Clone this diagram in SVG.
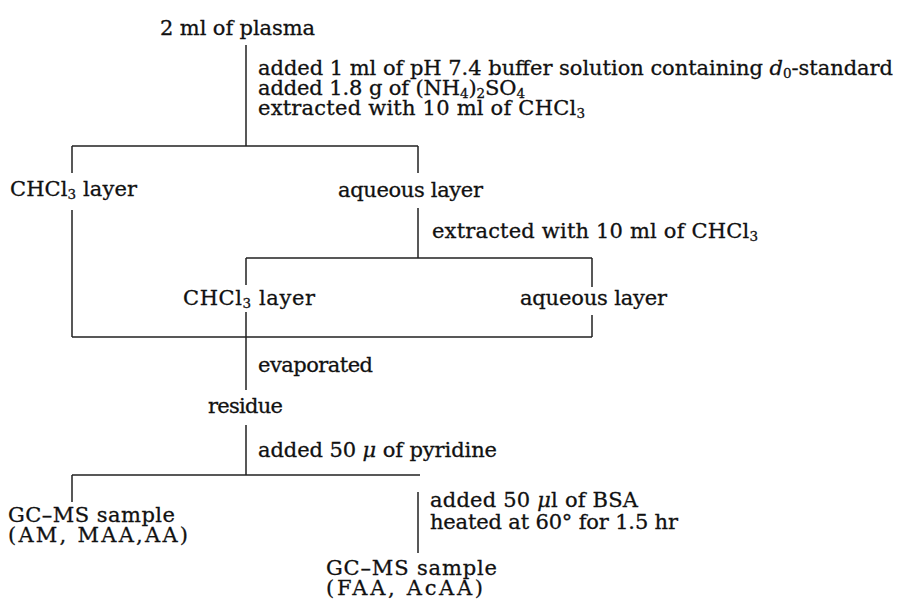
<svg xmlns="http://www.w3.org/2000/svg" width="897" height="607" viewBox="0 0 897 607">
<style>
text{font-family:"DejaVu Serif","Liberation Serif",serif;font-size:21px;fill:#111;stroke:#111;stroke-width:0.3}
.sub{font-size:13.5px}
.it{font-style:italic}
.ln{stroke:#222;stroke-width:1.5;fill:none}
</style>
<rect width="897" height="607" fill="#fff"/>
<g id="connectors" class="ln">
<path d="M246 45V146M72 146H418M72 146V173M418 146V173"/>
<path d="M72 210V337M418 208V258M246 258H592M246 258V285M246 312V390M592 258V287M592 315V337M72 337H592"/>
<path d="M246 425V475M72 475H420M72 475V502M418 492V553"/>
</g>
<g id="plasma"><text x="160" y="35" textLength="155" lengthAdjust="spacing">2 ml of plasma</text></g>
<g id="step1">
<text x="258" y="75" textLength="635" lengthAdjust="spacing">added 1 ml of pH 7.4 buffer solution containing <tspan class="it">d</tspan><tspan class="sub" dy="3">0</tspan><tspan dy="-3">-standard</tspan></text>
<text x="258" y="95" textLength="267" lengthAdjust="spacing">added 1.8 g of (NH<tspan class="sub" dy="3">4</tspan><tspan dy="-3">)</tspan><tspan class="sub" dy="3">2</tspan><tspan dy="-3">SO</tspan><tspan class="sub" dy="3">4</tspan></text>
<text x="258" y="115" textLength="327" lengthAdjust="spacing">extracted with 10 ml of CHCl<tspan class="sub" dy="3">3</tspan></text>
</g>
<g id="chcl3-layer-1"><text x="10" y="196" textLength="127" lengthAdjust="spacing">CHCl<tspan class="sub" dy="3">3</tspan><tspan dy="-3"> layer</tspan></text></g>
<g id="aqueous-layer-1"><text x="338" y="197" textLength="145" lengthAdjust="spacing">aqueous layer</text></g>
<g id="step2"><text x="432" y="238" textLength="326" lengthAdjust="spacing">extracted with 10 ml of CHCl<tspan class="sub" dy="3">3</tspan></text></g>
<g id="chcl3-layer-2"><text x="183" y="305" textLength="132" lengthAdjust="spacing">CHCl<tspan class="sub" dy="3">3</tspan><tspan dy="-3"> layer</tspan></text></g>
<g id="aqueous-layer-2"><text x="520" y="305" textLength="147" lengthAdjust="spacing">aqueous layer</text></g>
<g id="step3"><text x="258" y="372" textLength="115" lengthAdjust="spacing">evaporated</text></g>
<g id="residue"><text x="208" y="413" textLength="75" lengthAdjust="spacing">residue</text></g>
<g id="step4"><text x="258" y="457" textLength="239" lengthAdjust="spacing">added 50 <tspan class="it">μ</tspan> of pyridine</text></g>
<g id="sample-1">
<text x="8" y="522" textLength="167" lengthAdjust="spacing">GC–MS sample</text>
<text x="8" y="542" textLength="180" lengthAdjust="spacing">(AM, MAA,AA)</text>
</g>
<g id="step5">
<text x="430" y="507" textLength="208" lengthAdjust="spacing">added 50 <tspan class="it">μ</tspan>l of BSA</text>
<text x="430" y="529" textLength="248" lengthAdjust="spacing">heated at 60° for 1.5 hr</text>
</g>
<g id="sample-2">
<text x="326" y="575" textLength="171" lengthAdjust="spacing">GC–MS sample</text>
<text x="326" y="595" textLength="157" lengthAdjust="spacing">(FAA, AcAA)</text>
</g>
</svg>
